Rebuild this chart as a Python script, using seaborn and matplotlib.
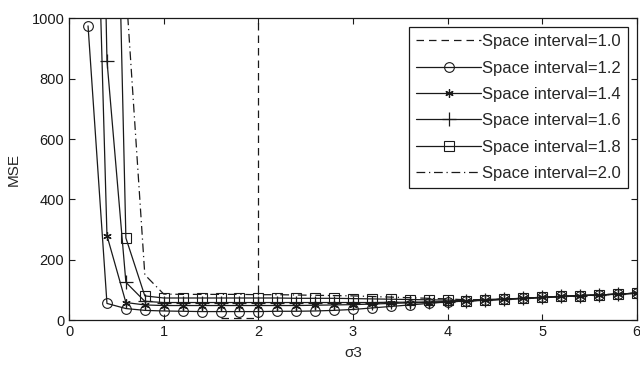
import numpy as np
import pandas as pd
import matplotlib
matplotlib.use("Agg")
import matplotlib.pyplot as plt
import seaborn as sns

sns.set_theme(style="ticks")
plt.rcParams['font.family'] = ['Liberation Sans', 'DejaVu Sans']

sigma = [0.2, 0.4, 0.6, 0.8, 1.0, 1.2, 1.4, 1.6, 1.8, 2.0, 2.2, 2.4, 2.6, 2.8, 3.0,
         3.2, 3.4, 3.6, 3.8, 4.0, 4.2, 4.4, 4.6, 4.8, 5.0, 5.2, 5.4, 5.6, 5.8, 6.0]

mse_12 = [975, 55, 38, 32, 30, 29, 28, 28, 28, 28, 29, 29, 30, 32, 35,
          40, 45, 50, 55, 60, 63, 66, 69, 72, 75, 78, 81, 83, 86, 89]
mse_14 = [2500, 280, 58, 50, 48, 48, 48, 48, 48, 48, 48, 48, 49, 50, 51,
          53, 55, 57, 58, 60, 63, 66, 69, 72, 75, 78, 81, 83, 86, 89]
mse_16 = [4000, 860, 125, 62, 58, 58, 58, 58, 58, 58, 58, 58, 58, 58, 58,
          58, 59, 59, 60, 61, 63, 66, 69, 72, 75, 78, 81, 83, 86, 89]
mse_18 = [5000, 3000, 272, 80, 73, 73, 73, 73, 73, 73, 73, 72, 72, 72, 71,
          70, 69, 68, 67, 66, 64, 66, 69, 72, 75, 78, 81, 83, 86, 89]
mse_20 = [6000, 4000, 1100, 150, 86, 85, 85, 85, 85, 84, 84, 83, 82, 81, 80,
          78, 76, 74, 72, 70, 67, 68, 70, 72, 75, 78, 81, 83, 86, 89]

sigma_10 = [1.6, 1.8, 2.0, 2.0]
mse_10 = [8, 8, 8, 100000]

labels = ["Space interval=1.0", "Space interval=1.2", "Space interval=1.4",
          "Space interval=1.6", "Space interval=1.8", "Space interval=2.0"]

fig = plt.figure(figsize=(6.4, 3.67), dpi=100)
ax = fig.add_axes([0.108, 0.128, 0.887, 0.822])

common = dict(ax=ax, color='k', linewidth=0.9, estimator=None, sort=False)

sns.lineplot(x=sigma_10, y=mse_10, label=labels[0], linestyle=(0, (6, 4)), **common)
sns.lineplot(x=sigma, y=mse_12, label=labels[1], marker='o', markersize=7,
             markerfacecolor='none', markeredgecolor='k', markeredgewidth=0.8, **common)
sns.lineplot(x=sigma, y=mse_14, label=labels[2], marker=(6, 2, 0), markersize=6,
             markeredgecolor='k', markeredgewidth=0.9, **common)
sns.lineplot(x=sigma, y=mse_16, label=labels[3], marker='+', markersize=10,
             markeredgecolor='k', markeredgewidth=0.9, **common)
sns.lineplot(x=sigma, y=mse_18, label=labels[4], marker='s', markersize=7,
             markerfacecolor='none', markeredgecolor='k', markeredgewidth=0.8, **common)
sns.lineplot(x=sigma, y=mse_20, label=labels[5], linestyle=(0, (7, 3, 1, 3)), **common)

ax.set_xlim(0, 6)
ax.set_ylim(0, 1000)
ax.set_xticks([0, 1, 2, 3, 4, 5, 6])
ax.set_yticks([0, 200, 400, 600, 800, 1000])
ax.set_xlabel("σ3", fontsize=11, labelpad=5)
ax.set_ylabel("MSE", fontsize=11, labelpad=8)
ax.tick_params(direction='in', length=4, width=0.8, labelsize=10.5, top=True, right=True,
               colors='k')
for s in ax.spines.values():
    s.set_visible(True)
    s.set_color('k')
    s.set_linewidth(0.9)

leg = ax.legend(loc='upper right', fontsize=12, frameon=True, fancybox=False,
                edgecolor='k', framealpha=1, handlelength=3.9, labelspacing=0.68,
                borderaxespad=0.5, handletextpad=0.05, borderpad=0.45)
leg.get_frame().set_linewidth(0.9)

fig.savefig("out.png", dpi=100)
